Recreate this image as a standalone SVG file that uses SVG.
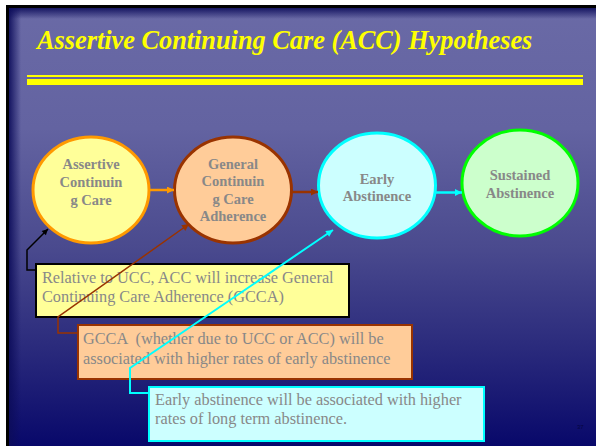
<svg xmlns="http://www.w3.org/2000/svg" width="596" height="446" viewBox="0 0 596 446">
  <defs>
    <linearGradient id="bg" x1="0" y1="5" x2="0" y2="446" gradientUnits="userSpaceOnUse">
      <stop offset="0" stop-color="#6a6aa6"/>
      <stop offset="0.28" stop-color="#6363a1"/>
      <stop offset="0.55" stop-color="#4a4a8e"/>
      <stop offset="0.78" stop-color="#2a2a7c"/>
      <stop offset="1" stop-color="#08086a"/>
    </linearGradient>
    <linearGradient id="bevelL" x1="0" y1="0" x2="1" y2="0">
      <stop offset="0" stop-color="#0c0c5a" stop-opacity="0.9"/>
      <stop offset="1" stop-color="#0c0c5a" stop-opacity="0"/>
    </linearGradient>
    <linearGradient id="bevelT" x1="0" y1="0" x2="0" y2="1">
      <stop offset="0" stop-color="#0c0c5a" stop-opacity="0.9"/>
      <stop offset="1" stop-color="#0c0c5a" stop-opacity="0"/>
    </linearGradient>
    <marker id="aOrange" viewBox="0 0 10 10" refX="10" refY="5" markerWidth="8" markerHeight="7" markerUnits="userSpaceOnUse" orient="auto">
      <path d="M0,0 L10,5 L0,10 z" fill="#ff9900"/>
    </marker>
    <marker id="aBrown" viewBox="0 0 10 10" refX="10" refY="5" markerWidth="8" markerHeight="7" markerUnits="userSpaceOnUse" orient="auto">
      <path d="M0,0 L10,5 L0,10 z" fill="#993300"/>
    </marker>
    <marker id="aCyan" viewBox="0 0 10 10" refX="10" refY="5" markerWidth="8" markerHeight="7" markerUnits="userSpaceOnUse" orient="auto">
      <path d="M0,0 L10,5 L0,10 z" fill="#00ffff"/>
    </marker>
    <marker id="aBlack" viewBox="0 0 10 10" refX="10" refY="5" markerWidth="7" markerHeight="6" markerUnits="userSpaceOnUse" orient="auto">
      <path d="M0,0 L10,5 L0,10 z" fill="#000000"/>
    </marker>
    <style>
      .title { font-family: "Liberation Serif", "Times New Roman", serif; font-weight: bold; font-style: italic; font-size: 26.3px; fill: #ffff00; }
      .node { font-family: "Liberation Serif", "Times New Roman", serif; font-weight: bold; font-size: 14.5px; fill: #888888; text-anchor: middle; }
      .box { font-family: "Liberation Serif", "Times New Roman", serif; font-size: 16.3px; fill: #888888; }
      .num { font-family: "Liberation Sans", Arial, sans-serif; font-size: 6px; fill: #050540; }
      .conn { fill: none; }
    </style>
  </defs>

  <!-- slide background -->
  <rect x="0" y="0" width="596" height="446" fill="#ffffff"/>
  <rect x="6" y="5" width="590" height="441" fill="#000000"/>
  <rect x="9" y="8" width="587" height="438" fill="url(#bg)"/>
  <rect x="9" y="8" width="12" height="438" fill="url(#bevelL)"/>
  <rect x="9" y="8" width="587" height="11" fill="url(#bevelT)"/>

  <!-- title -->
  <g id="title">
    <text class="title" x="37" y="49">Assertive Continuing Care (ACC) Hypotheses</text>
    <rect x="27" y="75" width="556" height="2" fill="#ffff00"/>
    <rect x="27" y="79" width="556" height="6" fill="#ffff00"/>
  </g>

  <!-- nodes -->
  <g id="node-acc">
    <ellipse cx="91" cy="190" rx="58" ry="53" fill="#ffff99" stroke="#ff9900" stroke-width="3"/>
    <text class="node" x="91" y="169">Assertive</text>
    <text class="node" x="91" y="187">Continuin</text>
    <text class="node" x="91" y="204.5">g Care</text>
  </g>
  <g id="node-gcca">
    <ellipse cx="233" cy="190" rx="58.5" ry="53" fill="#ffcc99" stroke="#993300" stroke-width="3"/>
    <text class="node" x="233" y="168.5">General</text>
    <text class="node" x="233" y="186">Continuin</text>
    <text class="node" x="233" y="203.5">g Care</text>
    <text class="node" x="233" y="221">Adherence</text>
  </g>
  <g id="node-early">
    <ellipse cx="377" cy="185.5" rx="58.5" ry="52.5" fill="#ccffff" stroke="#00ffff" stroke-width="3"/>
    <text class="node" x="377" y="183.5">Early</text>
    <text class="node" x="377" y="201">Abstinence</text>
  </g>
  <g id="node-sustained">
    <ellipse cx="520" cy="183" rx="58" ry="53" fill="#ccffcc" stroke="#00ff00" stroke-width="3"/>
    <text class="node" x="520" y="180">Sustained</text>
    <text class="node" x="520" y="197.5">Abstinence</text>
  </g>

  <!-- text boxes -->
  <g id="box-h1">
    <rect x="36" y="264" width="313" height="53" fill="#ffff99" stroke="#000000" stroke-width="2"/>
    <text class="box" x="42" y="282.5">Relative to UCC, ACC will increase General</text>
    <text class="box" x="42" y="301.5">Continuing Care Adherence (GCCA)</text>
  </g>
  <g id="box-h2">
    <rect x="78" y="325" width="334" height="54" fill="#ffcc99" stroke="#993300" stroke-width="2"/>
    <text class="box" x="83" y="343.5" xml:space="preserve">GCCA  (whether due to UCC or ACC) will be</text>
    <text class="box" x="83" y="363.5">associated with higher rates of early abstinence</text>
  </g>
  <g id="box-h3">
    <rect x="149" y="387" width="335" height="54" fill="#ccffff" stroke="#00ffff" stroke-width="2"/>
    <text class="box" x="155" y="404.5">Early abstinence will be associated with higher</text>
    <text class="box" x="155" y="423.5">rates of long term abstinence.</text>
  </g>

  <!-- connectors -->
  <g id="connectors">
    <line class="conn" x1="150" y1="190" x2="174" y2="190" stroke="#ff9900" stroke-width="2.5" marker-end="url(#aOrange)"/>
    <line class="conn" x1="292" y1="192" x2="318" y2="192" stroke="#993300" stroke-width="2.5" marker-end="url(#aBrown)"/>
    <line class="conn" x1="436" y1="192.5" x2="462" y2="192.5" stroke="#00ffff" stroke-width="2.5" marker-end="url(#aCyan)"/>
    <polyline class="conn" points="36,270 27,270 27,250 48,229" stroke="#000000" stroke-width="1.5" marker-end="url(#aBlack)"/>
    <polyline class="conn" points="77,333 58,333 58,317 189,224" stroke="#993300" stroke-width="1.5" marker-end="url(#aBrown)"/>
    <polyline class="conn" points="149,393 130,393 130,368 333,230" stroke="#00ffff" stroke-width="2" marker-end="url(#aCyan)"/>
  </g>

  <text class="num" x="577" y="429">37</text>
</svg>
